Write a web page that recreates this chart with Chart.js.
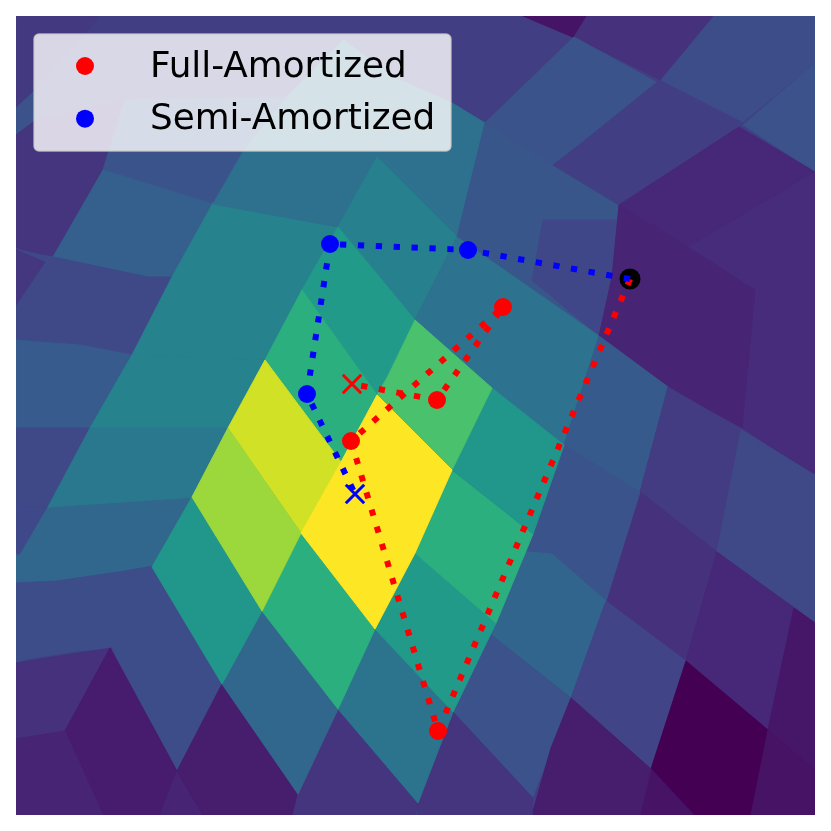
<!DOCTYPE html>
<html>
<head>
<meta charset="utf-8">
<title>Full vs Semi Amortized</title>
<script src="https://cdn.jsdelivr.net/npm/chart.js@4/dist/chart.umd.min.js"></script>
<style>
  html, body { margin: 0; background: #fff; }
  canvas { display: block; }
</style>
</head>
<body>
<canvas id="myChart" width="831" height="831"></canvas>
<script>
// landscape patches, back to front, each one [x, y, x, y, ...]
const cellOutlines = [
  [16,16, 815,16, 815,815, 16,815],
  [16,16, 100,16, 33,92, 16,108],
  [16,108, 33,92, 36,135, 16,135],
  [16,135, 36,120, 125,100, 115,152, 103,168, 53,257, 16,247],
  [125,100, 287,97, 243,152, 213,205, 103,170],
  [53,257, 103,170, 213,204, 172,277, 148,277],
  [16,250, 53,257, 148,277, 172,277, 132,355, 112,352, 80,345, 16,340],
  [16,250, 45,262, 16,305],
  [16,340, 80,345, 132,355, 90,428, 16,428],
  [16,428, 90,428, 48,507, 16,507],
  [16,507, 48,507, 20,555, 16,555],
  [48,507, 195,495, 158,568, 125,571, 57,581, 16,583, 16,555, 20,555],
  [16,583, 57,581, 125,571, 158,565, 222,684, 177,771, 112,648, 77,651, 28,659, 16,663],
  [16,663, 112,648, 65,731, 20,739, 16,739],
  [110,648, 177,771, 160,815, 103,815, 65,731],
  [16,739, 65,731, 103,815, 16,815],
  [177,771, 160,815, 203,815],
  [222,684, 298,794, 293,815, 203,815, 177,771],
  [213,203, 338,227, 303,290, 265,360, 132,355, 172,277],
  [132,355, 265,360, 228,428, 90,428],
  [90,428, 228,428, 195,497, 48,507],
  [343,40, 395,78, 452,103, 485,123, 457,237, 377,157, 338,227, 213,204, 243,152, 287,97],
  [377,157, 457,237, 415,320, 338,227],
  [485,123, 553,165, 619,205, 612,277, 599,336, 457,237],
  [543,220, 618,220, 612,277, 599,336, 532,280],
  [457,237, 599,336, 564,445, 492,388, 415,320],
  [523,16, 587,16, 575,38],
  [587,16, 714,16, 661,80, 574,37],
  [714,16, 815,16, 815,63, 743,122, 661,80],
  [815,63, 815,172, 743,125],
  [574,37, 656,82, 553,165, 485,123],
  [661,83, 737,127, 619,205, 553,165],
  [619,205, 739,127, 815,172, 688,247],
  [688,247, 815,172, 815,475, 742,428, 755,290],
  [619,205, 688,247, 755,290, 742,428, 668,387, 599,336, 612,277],
  [599,336, 668,387, 640,492, 564,445],
  [668,387, 741,430, 717,552, 640,492],
  [741,430, 815,475, 815,622, 794,606, 717,552],
  [640,492, 717,552, 686,661, 606,601],
  [717,552, 794,608, 768,730, 686,661],
  [794,608, 815,623, 815,771, 768,730],
  [564,445, 640,492, 606,601, 552,554, 515,551, 525,525],
  [515,551, 552,554, 606,601, 571,698, 485,630],
  [485,630, 571,698, 532,799, 445,712],
  [606,601, 686,661, 651,769, 571,698],
  [686,661, 768,730, 751,815, 694,815, 651,769],
  [768,730, 815,771, 815,815, 751,815],
  [651,769, 694,815, 640,815],
  [571,698, 651,769, 640,815, 532,815, 551,748],
  [453,712, 532,797, 532,815, 418,815, 418,803],
  [338,709, 418,803, 415,815, 293,815, 298,794],
  [375,629, 453,712, 418,803, 338,709],
  [262,611, 338,709, 298,794, 222,684],
  [192,497, 262,611, 222,684, 152,567],
  [301,533, 375,629, 338,709, 262,611],
  [415,553, 496,623, 453,712, 375,629],
  [452,470, 533,534, 496,623, 415,553],
  [492,388, 564,445, 533,534, 452,470],
  [338,227, 415,320, 388,376, 377,395, 302,290],
  [302,290, 377,395, 341,462, 265,360],
  [415,320, 492,388, 452,470, 377,395, 388,376],
  [265,360, 341,462, 301,533, 228,428],
  [228,428, 301,533, 262,611, 192,497],
  [377,395, 452,470, 415,553, 375,629, 301,533, 341,462],
];
// estimated colour scale values (0..1) for each patch
const cellValues = [
  0.18, 0.165, 0.25, 0.15, 0.26, 0.30, 0.22, 0.16, 0.285, 0.22, 0.215, 0.33, 0.235, 0.14, 0.075, 0.10,
  0.10, 0.08, 0.44, 0.44, 0.40, 0.37, 0.43, 0.265, 0.21, 0.375, 0.055, 0.14, 0.235,
  0.25, 0.26, 0.18, 0.11, 0.125, 0.10, 0.28, 0.175, 0.22, 0.14, 0.11, 0.06, 0.26, 0.325,
  0.25, 0.20, 0.0, 0.05, 0.05, 0.08, 0.15, 0.15, 0.38, 0.33, 0.52, 0.63, 0.54, 0.63, 0.52,
  0.54, 0.63, 0.71, 0.93, 0.85, 1.0,
];

const seriesNames = ["Full-Amortized", "Semi-Amortized"];
const fullX = [630, 438, 351, 503, 437, 352];
const fullY = [279, 731, 441, 307, 400, 384];
const semiX = [630, 468, 330, 307, 355];
const semiY = [279, 250, 244, 394, 494];
const startX = [630];
const startY = [279];

const xMin = 16, xMax = 815, yMin = 16, yMax = 815;
const seriesColors = ["#ff0000", "#0000ff"];

const viridis = ["#440154", "#482475", "#414487", "#355f8d", "#2a788e", "#21918c", "#22a884", "#44bf70", "#7ad151", "#bddf26", "#fde725"];

const hexToRgb = (h) => [1, 3, 5].map(i => parseInt(h.slice(i, i + 2), 16));

const viridisColor = (v) => {
  const p = Math.min(v, 0.9999) * (viridis.length - 1);
  const i = Math.floor(p);
  const a = hexToRgb(viridis[i]), b = hexToRgb(viridis[i + 1]);
  const c = a.map((n, k) => Math.round(n + (b[k] - n) * (p - i)));
  return `rgb(${c[0]},${c[1]},${c[2]})`;
};

const toPoints = (xs, ys) => xs.map((x, i) => ({x: x, y: ys[i]}));

const cellDatasets = cellOutlines.map((flat, i) => {
  const pts = [];
  for (let k = 0; k < flat.length; k += 2) pts.push({x: flat[k], y: flat[k + 1]});
  pts.push(pts[0]);
  const col = viridisColor(cellValues[i]);
  return {
    data: pts,
    showLine: true,
    fill: "shape",
    backgroundColor: col,
    borderColor: col,
    borderWidth: 1,
    pointRadius: 0,
    order: 1000 - i
  };
});

const pathStyle = (color, order) => ({
  showLine: true,
  borderColor: color,
  borderWidth: 6,
  borderDash: [6.3, 11.6],
  borderCapStyle: "butt",
  pointRadius: 0,
  fill: false,
  order: order
});

const dotStyle = (color, order) => ({
  showLine: false,
  backgroundColor: color,
  borderColor: color,
  borderWidth: 0,
  pointStyle: "circle",
  pointRadius: 9,
  order: order
});

const crossStyle = (color, order) => ({
  showLine: false,
  borderColor: color,
  borderWidth: 3,
  pointStyle: "crossRot",
  pointRadius: 13,
  order: order
});

// matplotlib style legend box sitting inside the plot
const legendBox = {
  id: "legendBox",
  afterDraw(chart) {
    const ctx = chart.ctx;
    ctx.save();
    ctx.beginPath();
    ctx.roundRect(34, 34, 417, 117, 5);
    ctx.fillStyle = "rgba(255,255,255,0.8)";
    ctx.fill();
    ctx.strokeStyle = "rgba(204,204,204,0.8)";
    ctx.lineWidth = 1.4;
    ctx.stroke();
    ctx.font = '35.8px "DejaVu Sans"';
    ctx.textBaseline = "alphabetic";
    seriesNames.forEach((name, i) => {
      const y = 66 + i * 52.7;
      ctx.beginPath();
      ctx.arc(85, y, 9, 0, Math.PI * 2);
      ctx.fillStyle = seriesColors[i];
      ctx.fill();
      ctx.fillStyle = "#000";
      ctx.fillText(name, 150, y + 10.5);
    });
    ctx.restore();
  }
};

new Chart("myChart", {
  type: "scatter",
  data: {
    datasets: [
      {label: "semi path", data: toPoints(semiX, semiY), ...pathStyle(seriesColors[1], 1)},
      {label: "full path", data: toPoints(fullX, fullY), ...pathStyle(seriesColors[0], 2)},
      {label: "start", data: toPoints(startX, startY), backgroundColor: "#000", borderWidth: 0, pointRadius: 10.5, order: 3},
      {label: "semi end", data: toPoints(semiX.slice(-1), semiY.slice(-1)), ...crossStyle(seriesColors[1], 4)},
      {label: "full end", data: toPoints(fullX.slice(-1), fullY.slice(-1)), ...crossStyle(seriesColors[0], 4)},
      {label: seriesNames[1], data: toPoints(semiX.slice(0, -1), semiY.slice(0, -1)), ...dotStyle(seriesColors[1], 5)},
      {label: seriesNames[0], data: toPoints(fullX.slice(0, -1), fullY.slice(0, -1)), ...dotStyle(seriesColors[0], 6)},
      ...cellDatasets
    ]
  },
  options: {
    responsive: false,
    animation: false,
    devicePixelRatio: 1,
    layout: {padding: {left: 16, top: 16, right: 16, bottom: 16}},
    scales: {
      x: {type: "linear", min: xMin, max: xMax, display: false},
      y: {type: "linear", min: yMin, max: yMax, reverse: true, display: false}
    },
    plugins: {
      legend: {display: false},
      tooltip: {enabled: false}
    }
  },
  plugins: [legendBox]
});
</script>
</body>
</html>
